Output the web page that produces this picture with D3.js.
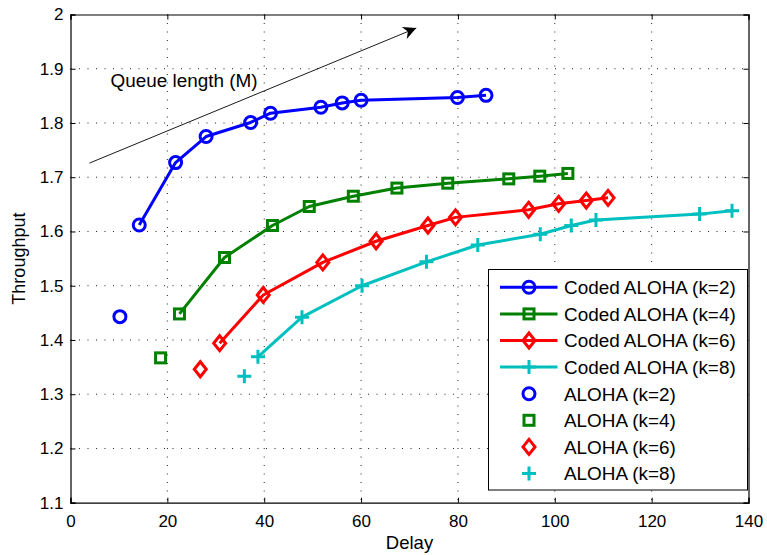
<!DOCTYPE html>
<html><head><meta charset="utf-8">
<script src="https://cdn.jsdelivr.net/npm/d3@7"></script>
<style>body{margin:0;background:#fff}svg{display:block}text{font-family:"Liberation Sans",Arial,sans-serif}</style>
</head><body><svg id="c" width="767" height="555"></svg>
<script>
const xTicks=[0,20,40,60,80,100,120,140];
const yTicks=[1.1,1.2,1.3,1.4,1.5,1.6,1.7,1.8,1.9,2];
const yTickLabels=["1.1","1.2","1.3","1.4","1.5","1.6","1.7","1.8","1.9","2"];
const coded2X=[14.2,21.7,28.0,37.2,41.3,51.7,56.1,60.0,79.9,85.8];
const coded2Y=[1.612,1.727,1.775,1.801,1.818,1.829,1.837,1.842,1.847,1.851];
const coded4X=[22.5,31.8,41.7,49.3,58.4,67.4,77.9,90.5,96.9,102.7];
const coded4Y=[1.448,1.552,1.611,1.646,1.665,1.680,1.689,1.697,1.702,1.707];
const coded6X=[30.8,39.8,52.1,63.1,73.8,79.5,94.6,100.8,106.5,111.0];
const coded6Y=[1.394,1.483,1.543,1.582,1.611,1.626,1.640,1.651,1.657,1.662];
const coded8X=[38.7,47.8,60.2,73.5,84.1,97.0,103.4,108.5,129.9,136.6];
const coded8Y=[1.369,1.442,1.500,1.544,1.575,1.595,1.611,1.621,1.632,1.638];
const alohaX=[10.2,18.6,26.8,35.9];
const alohaY=[1.443,1.367,1.346,1.333];
const seriesNames=["Coded ALOHA (k=2)","Coded ALOHA (k=4)","Coded ALOHA (k=6)","Coded ALOHA (k=8)","ALOHA (k=2)","ALOHA (k=4)","ALOHA (k=6)","ALOHA (k=8)"];
const colors=["#0000ff","#008000","#ff0000","#00bfbf"];
const markers=["circle","square","diamond","plus"];
const arrowFrom=[3.9,1.726], arrowTo=[71.4,1.975];
const annotation="Queue length (M)";

const svg=d3.select("#c");
const L=70.5,R=748.5,T=14.5,B=502.7;
const x=d3.scaleLinear().domain([0,140]).range([L,R]);
const y=d3.scaleLinear().domain([1.1,2]).range([B,T]);

// grid
const g=svg.append("g");
xTicks.slice(1,-1).forEach(t=>g.append("line").attr("x1",x(t)).attr("x2",x(t)).attr("y1",T).attr("y2",B).attr("stroke","#222").attr("stroke-width",1).attr("stroke-dasharray","1,7.5"));
yTicks.slice(1,-1).forEach(t=>g.append("line").attr("x1",L).attr("x2",R).attr("y1",y(t)).attr("y2",y(t)).attr("stroke","#222").attr("stroke-width",1).attr("stroke-dasharray","1,7.5"));

// axes
const fs=17;
const xa=svg.append("g").attr("transform",`translate(0,${B})`).call(d3.axisBottom(x).tickValues(xTicks).tickSize(-5).tickPadding(12).tickFormat(d3.format("d")));
const xt=svg.append("g").attr("transform",`translate(0,${T})`).call(d3.axisTop(x).tickValues(xTicks).tickSize(-5).tickFormat(""));
const ya=svg.append("g").attr("transform",`translate(${L},0)`).call(d3.axisLeft(y).tickValues(yTicks).tickSize(-5).tickPadding(7).tickFormat((d,i)=>yTickLabels[i]));
const yr=svg.append("g").attr("transform",`translate(${R},0)`).call(d3.axisRight(y).tickValues(yTicks).tickSize(-5).tickFormat(""));
[xa,xt,ya,yr].forEach(a=>{a.selectAll("path").attr("stroke","#000").attr("stroke-width",1.2);a.selectAll("line").attr("stroke","#000");a.selectAll("text").attr("font-size",fs).attr("fill","#000").attr("font-family","Liberation Sans, Arial, sans-serif");});

svg.append("text").attr("x",(L+R)/2).attr("y",549).attr("text-anchor","middle").attr("font-size",18.5).text("Delay");
svg.append("text").attr("transform",`translate(25,${(T+B)/2}) rotate(-90)`).attr("text-anchor","middle").attr("font-size",18).text("Throughput");

// annotation arrow
svg.append("defs").append("marker").attr("id","ah").attr("viewBox","0 0 10 10").attr("refX",10).attr("refY",5).attr("markerWidth",20).attr("markerHeight",13).attr("markerUnits","userSpaceOnUse").attr("orient","auto")
 .append("path").attr("d","M0,0 L10,5 L0,10 L3,5 Z").attr("fill","#000");
svg.append("line").attr("x1",x(arrowFrom[0])).attr("y1",y(arrowFrom[1])).attr("x2",x(arrowTo[0])).attr("y2",y(arrowTo[1])).attr("stroke","#000").attr("stroke-width",0.9).attr("marker-end","url(#ah)");
svg.append("text").attr("x",110.5).attr("y",86.5).attr("font-size",18.9).text(annotation);

function drawMarker(sel,type,color,cx,cy){
  if(type==="circle") sel.append("circle").attr("cx",cx).attr("cy",cy).attr("r",6).attr("fill","none").attr("stroke",color).attr("stroke-width",3);
  else if(type==="square") sel.append("rect").attr("x",cx-5).attr("y",cy-5).attr("width",10).attr("height",10).attr("fill","none").attr("stroke",color).attr("stroke-width",3);
  else if(type==="diamond") sel.append("path").attr("d",`M${cx},${cy-7.5}L${cx+6},${cy}L${cx},${cy+7.5}L${cx-6},${cy}Z`).attr("fill","none").attr("stroke",color).attr("stroke-width",3);
  else sel.append("path").attr("d",`M${cx-7},${cy}H${cx+7}M${cx},${cy-7}V${cy+7}`).attr("fill","none").attr("stroke",color).attr("stroke-width",3);
}

const codedX=[coded2X,coded4X,coded6X,coded8X], codedY=[coded2Y,coded4Y,coded6Y,coded8Y];
const line=d3.line().x(d=>x(d[0])).y(d=>y(d[1]));
codedX.forEach((xs,i)=>{
  const pts=xs.map((v,j)=>[v,codedY[i][j]]);
  const gg=svg.append("g");
  gg.append("path").attr("d",line(pts)).attr("fill","none").attr("stroke",colors[i]).attr("stroke-width",3).attr("stroke-linejoin","round");
  pts.forEach(p=>drawMarker(gg,markers[i],colors[i],x(p[0]),y(p[1])));
});
alohaX.forEach((v,i)=>drawMarker(svg,markers[i],colors[i],x(v),y(alohaY[i])));

// legend
const lg=svg.append("g");
lg.append("rect").attr("x",488.5).attr("y",269.5).attr("width",259).attr("height",220.5).attr("fill","#fff").attr("stroke","#000").attr("stroke-width",1);
seriesNames.forEach((n,i)=>{
  const yy=287.3+i*26.6, k=i%4;
  if(i<4) lg.append("line").attr("x1",500).attr("x2",557.5).attr("y1",yy).attr("y2",yy).attr("stroke",colors[k]).attr("stroke-width",3);
  drawMarker(lg,markers[k],colors[k],529,yy);
  lg.append("text").attr("x",564).attr("y",yy+6.8).attr("font-size",18.9).text(n);
});
</script></body></html>
